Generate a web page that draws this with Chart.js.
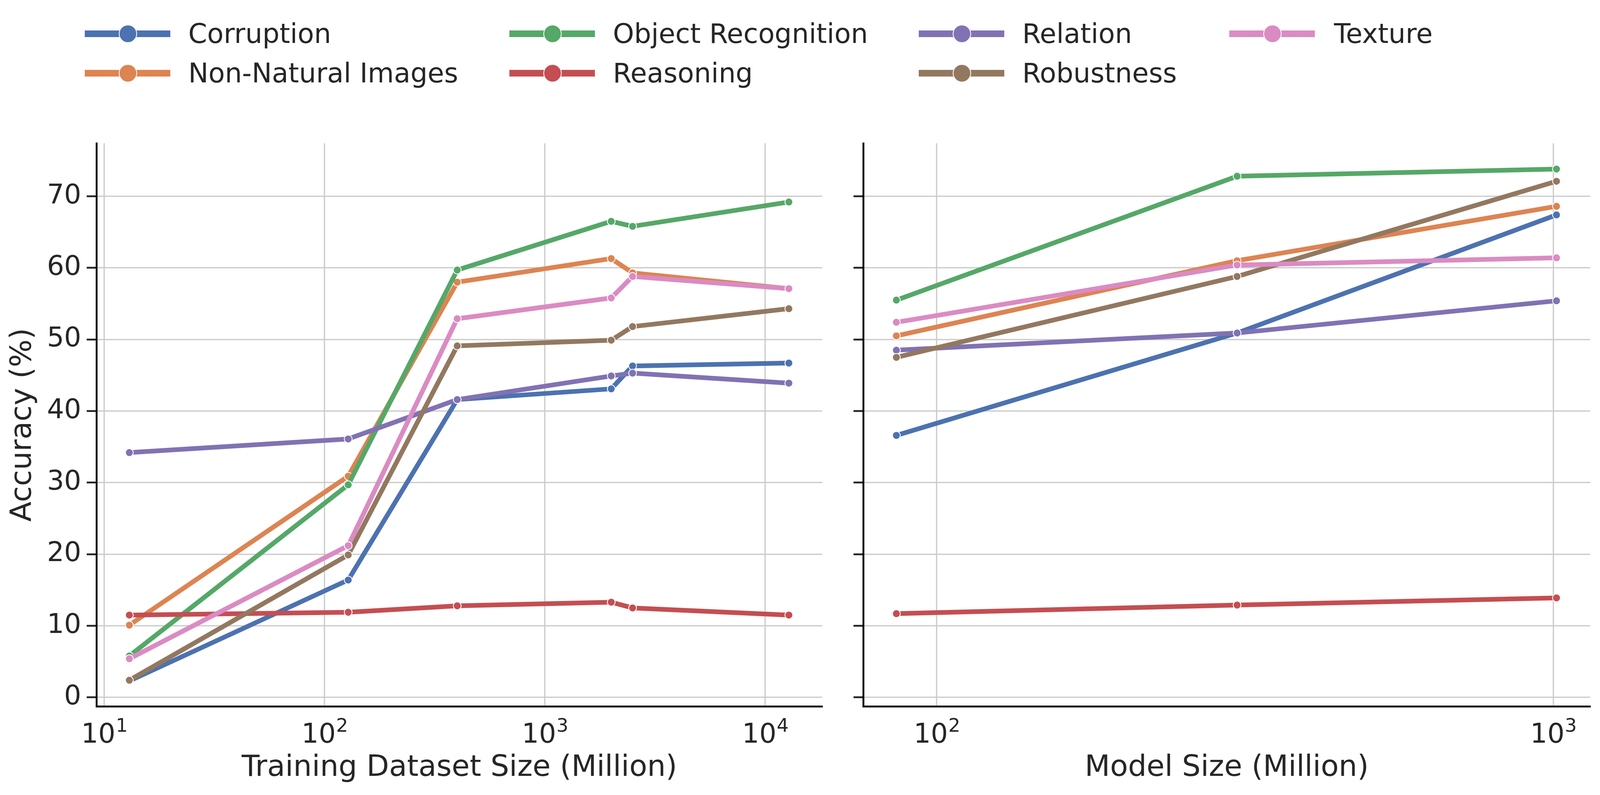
<!DOCTYPE html>
<html>
<head>
<meta charset="utf-8">
<script src="https://cdn.jsdelivr.net/npm/chart.js@4.4.1/dist/chart.umd.min.js"></script>
<style>
html,body{margin:0;padding:0;background:#fff;width:4098px;height:2036px;overflow:hidden;font-family:"DejaVu Sans";}
canvas{position:absolute;top:0;}
#cA{left:0;}
#cB{left:2160px;}
.lline{position:absolute;height:17px;width:219px;}
.ldot{position:absolute;width:43px;height:43px;border:2px solid #fff;border-radius:50%;}
.ltext{position:absolute;font-family:"DejaVu Sans";font-size:69px;line-height:69px;color:#262626;white-space:nowrap;}
</style>
</head>
<body>
<canvas id="cA" width="2160" height="2036"></canvas>
<canvas id="cB" width="1938" height="2036"></canvas>
<div id="legend"></div>
<script>
// ---- data ----
const categories = ['Corruption','Non-Natural Images','Object Recognition','Reasoning','Relation','Robustness','Texture'];
const colors = ['#4C72B0','#DD8452','#55A868','#C44E52','#8172B3','#937860','#DA8BC3'];

// Left panel: training dataset size (Million)
const datasetSizes = [13, 128, 400, 2000, 2500, 12800];
const dsCorruption        = [2.3, 16.4, 41.6, 43.1, 46.3, 46.7];
const dsNonNatural        = [10.1, 30.9, 58.0, 61.3, 59.3, 57.1];
const dsObjectRecognition = [5.8, 29.7, 59.7, 66.5, 65.8, 69.2];
const dsReasoning         = [11.5, 11.9, 12.8, 13.3, 12.5, 11.5];
const dsRelation          = [34.2, 36.1, 41.6, 44.9, 45.3, 43.9];
const dsRobustness        = [2.4, 19.9, 49.1, 49.9, 51.8, 54.3];
const dsTexture           = [5.4, 21.2, 52.9, 55.8, 58.8, 57.1];

// Right panel: model size (Million)
const modelSizes = [86, 307, 1012];
const msCorruption        = [36.6, 50.9, 67.4];
const msNonNatural        = [50.5, 61.0, 68.6];
const msObjectRecognition = [55.5, 72.8, 73.8];
const msReasoning         = [11.7, 12.9, 13.9];
const msRelation          = [48.5, 50.9, 55.4];
const msRobustness        = [47.5, 58.8, 72.1];
const msTexture           = [52.4, 60.4, 61.4];

const yTicks = [0, 10, 20, 30, 40, 50, 60, 70];
const xTicksDataset = [10, 100, 1000, 10000];
const xTicksModel = [100, 1000];

const dsSeries = [dsCorruption, dsNonNatural, dsObjectRecognition, dsReasoning, dsRelation, dsRobustness, dsTexture];
const msSeries = [msCorruption, msNonNatural, msObjectRecognition, msReasoning, msRelation, msRobustness, msTexture];

// ---- superscript tick labels (10^n) ----
const supLabels = {
  id: 'supLabels',
  afterDraw(chart, args, opts) {
    const xs = chart.scales.x;
    const ctx = chart.ctx;
    const base = chart.chartArea.bottom;
    ctx.save();
    ctx.fillStyle = '#262626';
    ctx.textBaseline = 'alphabetic';
    ctx.textAlign = 'left';
    (opts.ticks || []).forEach(v => {
      const px = xs.getPixelForValue(v);
      const e = String(Math.round(Math.log10(v)));
      ctx.font = '69px "DejaVu Sans"';
      const w1 = ctx.measureText('10').width;
      ctx.font = '48px "DejaVu Sans"';
      const w2 = ctx.measureText(e).width;
      const x0 = px - (w1 + w2) / 2;
      ctx.font = '69px "DejaVu Sans"';
      ctx.fillText('10', x0, base + 93);
      ctx.font = '48px "DejaVu Sans"';
      ctx.fillText(e, x0 + w1 + 1, base + 65);
    });
    ctx.restore();
  }
};

function makeChart(id, xVals, series, o) {
  return new Chart(document.getElementById(id), {
    type: 'line',
    data: {
      datasets: categories.map((c, i) => ({
        label: c,
        data: xVals.map((x, j) => ({x: x, y: series[i][j]})),
        borderColor: colors[i],
        backgroundColor: colors[i],
        pointBackgroundColor: colors[i],
        pointBorderColor: '#ffffff',
        pointRadius: 10,
        pointHoverRadius: 10,
        pointBorderWidth: 2,
        borderWidth: 12,
        borderJoinStyle: 'round',
        tension: 0,
        order: categories.length - i
      }))
    },
    options: {
      responsive: false,
      animation: false,
      events: [],
      layout: {padding: {left: 0, top: 367, right: o.padRight, bottom: 0}},
      plugins: {
        legend: {display: false},
        tooltip: {enabled: false},
        supLabels: {ticks: o.xTicks}
      },
      scales: {
        x: {
          type: 'logarithmic',
          min: o.xMin, max: o.xMax,
          afterBuildTicks: s => { s.ticks = o.xTicks.map(v => ({value: v})); },
          afterFit: s => { s.height = 227; },
          grid: {color: '#cccccc', lineWidth: 3.3, drawTicks: false},
          border: {display: true, color: '#000000', width: 4.7},
          ticks: {display: false},
          title: {display: true, text: o.xTitle, color: '#262626',
                  font: {family: 'DejaVu Sans', size: 75}, padding: {top: 0, bottom: 23}}
        },
        y: {
          type: 'linear',
          min: -1.25, max: 77.4,
          afterBuildTicks: s => { s.ticks = yTicks.map(v => ({value: v})); },
          afterFit: s => { s.width = o.yWidth; },
          grid: {color: '#cccccc', lineWidth: 3.3, drawTicks: true, tickLength: 25,
                 tickColor: '#262626', tickWidth: 4.7},
          border: {display: true, color: '#000000', width: 4.7},
          ticks: {display: o.showY, color: '#262626', font: {family: 'DejaVu Sans', size: 69}, padding: 14},
          title: {display: o.showY, text: 'Accuracy (%)', color: '#262626',
                  font: {family: 'DejaVu Sans', size: 75}, padding: {top: 15, bottom: 0}}
        }
      }
    },
    plugins: [supLabels]
  });
}

makeChart('cA', datasetSizes, dsSeries, {
  xMin: 9.22, xMax: 18150, xTicks: xTicksDataset, padRight: 55, yWidth: 247,
  showY: true, xTitle: 'Training Dataset Size (Million)'
});
makeChart('cB', modelSizes, msSeries, {
  xMin: 76.0, xMax: 1148, xTicks: xTicksModel, padRight: 27, yWidth: 50,
  showY: false, xTitle: 'Model Size (Million)'
});

// ---- legend (column-major, 4 columns x 2 rows) ----
const legendColX = [217, 1304, 2352, 3147];
const legendTextX = [482, 1569, 2617, 3415];
const legendRowY = [86.3, 187.3];
const legendBaseY = [110, 211.5];
const legendEl = document.getElementById('legend');
categories.forEach((c, i) => {
  const col = Math.floor(i / 2), row = i % 2;
  const lx = legendColX[col], cy = legendRowY[row];
  const line = document.createElement('div');
  line.className = 'lline';
  line.style.left = lx + 'px';
  line.style.top = (cy - 8.5) + 'px';
  line.style.background = colors[i];
  legendEl.appendChild(line);
  const dot = document.createElement('div');
  dot.className = 'ldot';
  dot.style.left = (lx + 110 - 23.5) + 'px';
  dot.style.top = (cy - 23.5) + 'px';
  dot.style.background = colors[i];
  legendEl.appendChild(dot);
  const t = document.createElement('div');
  t.className = 'ltext';
  t.style.left = legendTextX[col] + 'px';
  t.style.top = (legendBaseY[row] - 58.4) + 'px';
  t.textContent = c;
  legendEl.appendChild(t);
});
</script>
</body>
</html>
